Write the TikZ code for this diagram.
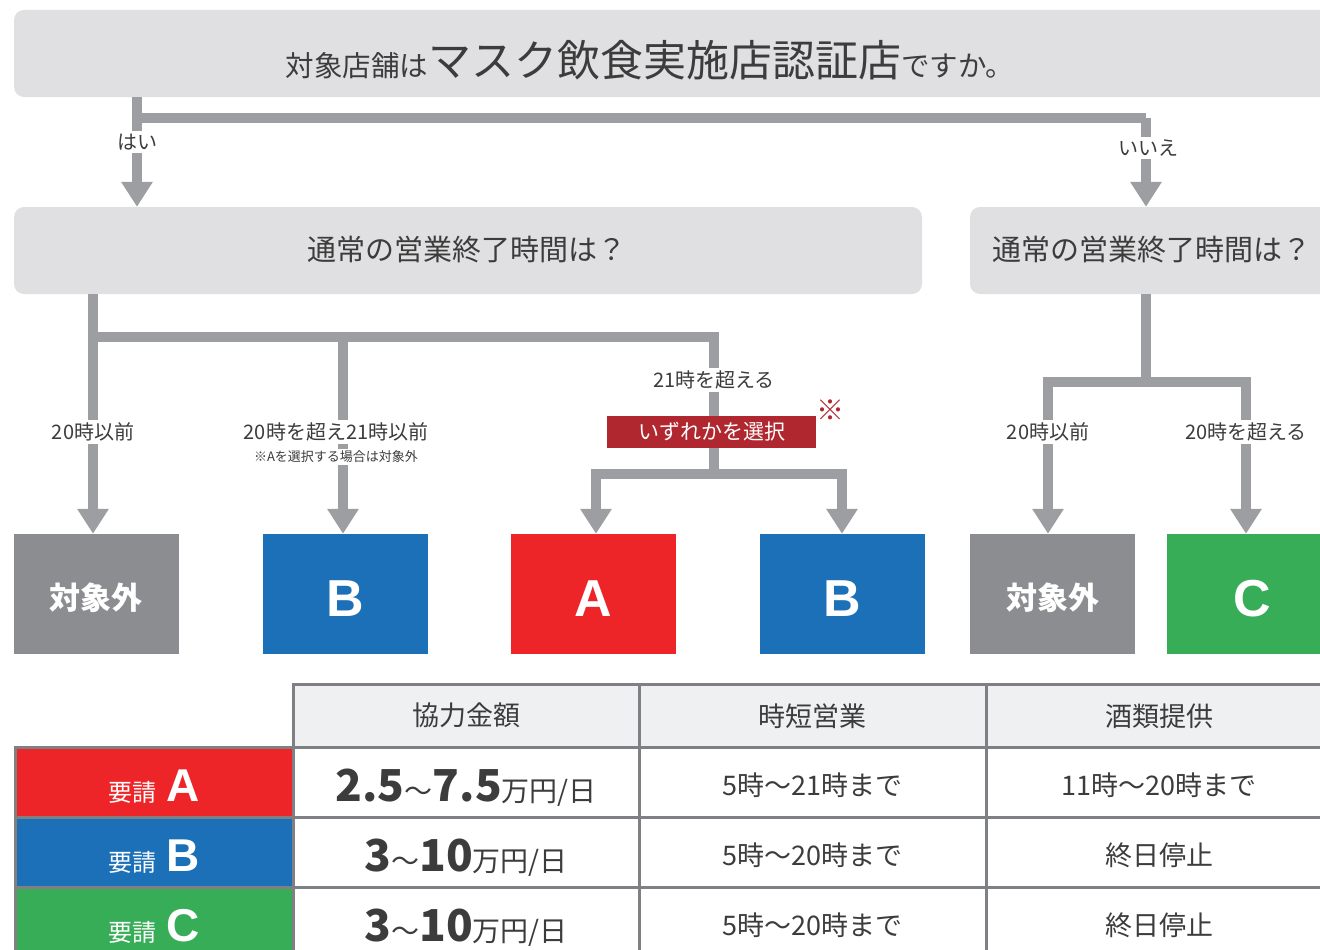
\documentclass[tikz,border=0pt]{standalone}
\usepackage{fontspec}
\setmainfont{Noto Sans CJK JP}
\newfontfamily\latinb{Liberation Sans}
\usetikzlibrary{arrows.meta}
\definecolor{lg}{HTML}{E0E0E2}
\definecolor{cg}{HTML}{9D9EA2}
\definecolor{gbox}{HTML}{8C8D91}
\definecolor{bbox}{HTML}{1B70B7}
\definecolor{rbox}{HTML}{EE2528}
\definecolor{gnbox}{HTML}{38AD57}
\definecolor{selred}{HTML}{B0272F}
\definecolor{txt}{HTML}{3C3C3C}
\definecolor{tb}{HTML}{7F8083}
\definecolor{hdr}{HTML}{EFF0F2}
\newcommand{\fsz}[1]{\fontsize{#1}{#1}\selectfont}
% box with given height and zero depth: node centre sits at #1/2 above baseline
\newcommand{\vc}[2]{\raisebox{0pt}[#1][0pt]{#2}}
\newcommand{\money}[2]{\vc{39pt}{{\fsz{44}\bfseries #1}{\fsz{28}〜}{\fsz{44}\bfseries #2}{\fsz{28}万円/日}}}
\newcommand{\req}[1]{\vc{39pt}{{\fsz{24}要請}\hspace{10pt}{\latinb\fsz{46}\bfseries #1}}}
\tikzset{
  qbox/.style={fill=lg, rounded corners=10pt, inner sep=0pt},
  conn/.style={draw=cg, line width=10pt, line join=miter},
  arr/.style={conn, -{Triangle[width=30pt,length=25pt]}},
  lbl/.style={fill=white, text=txt, inner sep=3pt, font=\fsz{20}},
  res/.style={inner sep=0pt, minimum width=165pt, minimum height=120pt, text=white},
  cell/.style={draw=tb, line width=2.5pt, anchor=north west, inner sep=0pt, text=txt},
}
\begin{document}
\begin{tikzpicture}[x=1pt,y=-1pt]
\useasboundingbox (0,0) rectangle (1320,950);
\clip (0,0) rectangle (1320,950);

% top question
\node[qbox, minimum width=1330pt, minimum height=87pt] (q1) at (679,53.5) {};
\node[text=txt, inner sep=0pt] (q1t) at (650,60) {\fsz{28.5}対象店舗は\fsz{43}マスク飲食実施店認証店\fsz{28.5}ですか。};

% second level boxes
\node[qbox, minimum width=908pt, minimum height=87pt] (q2l) at (468,250.5) {};
\node[text=txt, inner sep=0pt, font=\fsz{29}] (q2lt) at (467,250) {通常の営業終了時間は？};
\node[qbox, minimum width=380pt, minimum height=87pt] (q2r) at (1160,250.5) {};
\node[text=txt, inner sep=0pt, font=\fsz{29}] (q2rt) at (1152,250) {通常の営業終了時間は？};

% result boxes
\node[res, fill=gbox, font=\fsz{31}\bfseries] (t1) at (96,594) {\vc{31.5pt}{対象外}};
\node[res, fill=bbox, font=\latinb\fsz{52}\bfseries] (t2) at (345.5,594) {\vc{44pt}{B}};
\node[res, fill=rbox, font=\latinb\fsz{52}\bfseries] (t3) at (593.5,594) {\vc{44pt}{A}};
\node[res, fill=bbox, font=\latinb\fsz{52}\bfseries] (t4) at (842.5,594) {\vc{44pt}{B}};
\node[res, fill=gbox, font=\fsz{31}\bfseries] (t5) at (1052.5,594) {\vc{31.5pt}{対象外}};
\node[res, fill=gnbox, font=\latinb\fsz{52}\bfseries, minimum width=170pt] (t6) at (1252,594) {\vc{44pt}{C}};

% top branching
\coordinate (j1) at (137,118);
\coordinate (j2) at (1146,118);
\draw[conn] (q1.south -| j1) -- (j1) -- (j2);
\draw[arr] (j1) -- (j1 |- q2l.north);
\draw[arr] (j2) -- (j2 |- q2r.north);
\node[lbl] (yes) at (137,142) {はい};
\node[lbl] (no) at (1148,148) {いいえ};

% left tree
\coordinate (k0) at (93,337);
\coordinate (k1) at (343,337);
\coordinate (k2) at (714,337);
\node[fill=selred, text=white, inner sep=0pt, minimum width=209pt, minimum height=32pt, font=\fsz{21}] (sel) at (711.5,432) {いずれかを選択};
\draw[conn] (q2l.south -| k0) -- (k0) -- (k2) -- (k2 |- sel.north);
\draw[arr] (k0) -- (k0 |- t1.north);
\draw[arr] (k1) -- (k1 |- t2.north);
\coordinate (m) at (714,474);
\coordinate (m1) at (596,474);
\coordinate (m2) at (842,474);
\draw[conn] (sel.south -| k2) -- (m);
\draw[arr] (m) -- (m1) -- (m1 |- t3.north);
\draw[arr] (m) -- (m2) -- (m2 |- t4.north);
\node[lbl] (l1) at (93,432) {20時以前};
\node[lbl] (l2) at (336,432) {20時を超え21時以前};
\node[lbl, font=\fsz{13}, inner sep=2pt] (l2n) at (336,457) {※Aを選択する場合は対象外};
\node[lbl] (l3) at (714,380) {21時を超える};
\node[text=selred, inner sep=0pt, font=\fsz{28}] (ast) at (830,410) {※};

% right tree
\coordinate (r0) at (1146,382);
\coordinate (r1) at (1048,382);
\coordinate (r2) at (1246,382);
\draw[conn] (q2r.south -| r0) -- (r0);
\draw[arr] (r0) -- (r1) -- (r1 |- t5.north);
\draw[arr] (r0) -- (r2) -- (r2 |- t6.north);
\node[lbl] (l4) at (1048,432) {20時以前};
\node[lbl] (l5) at (1246,432) {20時を超える};

% table header
\node[cell, fill=hdr, minimum width=346pt, minimum height=63pt, font=\fsz{27}] (h1) at (292,683) {協力金額};
\node[cell, fill=hdr, minimum width=347pt, minimum height=63pt, font=\fsz{27}] (h2) at (638,683) {時短営業};
\node[cell, fill=hdr, minimum width=346pt, minimum height=63pt, font=\fsz{27}] (h3) at (985,683) {酒類提供};

% left column
\node[cell, fill=rbox, text=white, minimum width=278pt, minimum height=70pt] (ra) at (14,746) {\req{A}};
\node[cell, fill=bbox, text=white, minimum width=278pt, minimum height=70pt] (rb) at (14,816) {\req{B}};
\node[cell, fill=gnbox, text=white, minimum width=278pt, minimum height=70pt] (rc) at (14,886) {\req{C}};

% data
\node[cell, minimum width=346pt, minimum height=70pt] (a1) at (292,746) {\money{2.5}{7.5}};
\node[cell, minimum width=347pt, minimum height=70pt, font=\fsz{27}] (a2) at (638,746) {\vc{26.5pt}{5時～21時まで}};
\node[cell, minimum width=346pt, minimum height=70pt, font=\fsz{27}] (a3) at (985,746) {\vc{26.5pt}{11時～20時まで}};
\node[cell, minimum width=346pt, minimum height=70pt] (b1) at (292,816) {\money{3}{10}};
\node[cell, minimum width=347pt, minimum height=70pt, font=\fsz{27}] (b2) at (638,816) {\vc{26.5pt}{5時～20時まで}};
\node[cell, minimum width=346pt, minimum height=70pt, font=\fsz{27}] (b3) at (985,816) {\vc{26.5pt}{終日停止}};
\node[cell, minimum width=346pt, minimum height=70pt] (c1) at (292,886) {\money{3}{10}};
\node[cell, minimum width=347pt, minimum height=70pt, font=\fsz{27}] (c2) at (638,886) {\vc{26.5pt}{5時～20時まで}};
\node[cell, minimum width=346pt, minimum height=70pt, font=\fsz{27}] (c3) at (985,886) {\vc{26.5pt}{終日停止}};
\end{tikzpicture}
\end{document}
